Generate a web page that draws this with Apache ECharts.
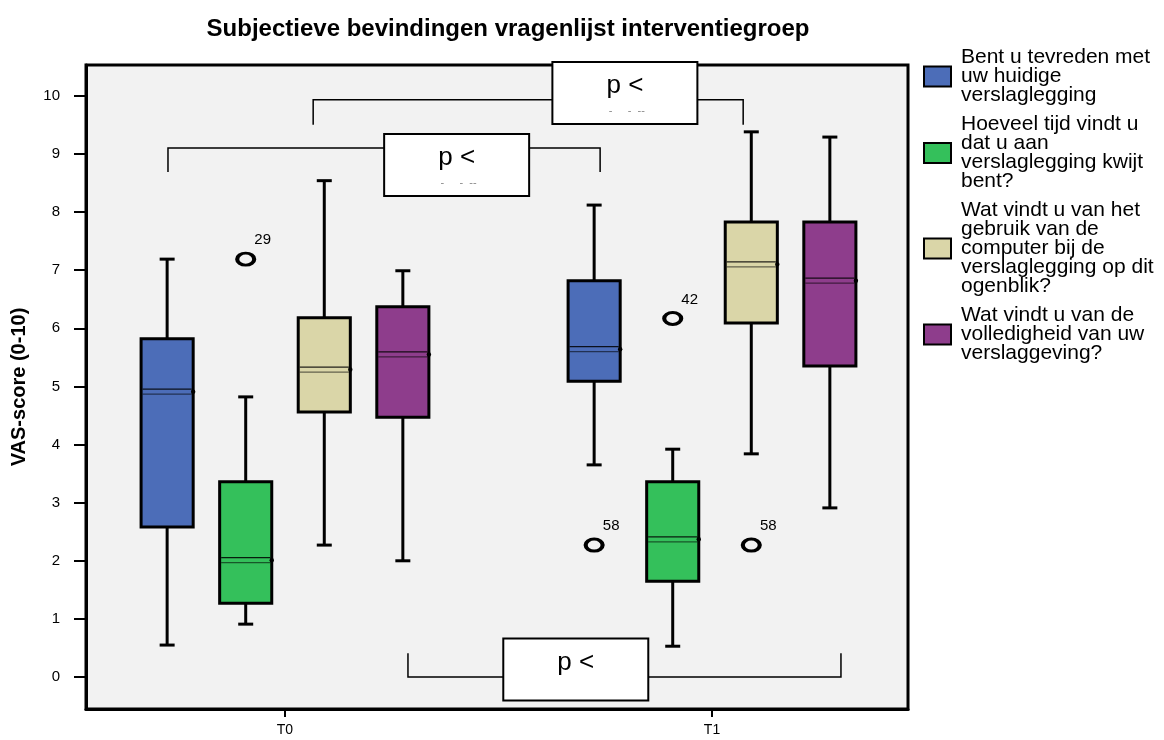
<!DOCTYPE html>
<html>
<head>
<meta charset="utf-8">
<script src="https://cdn.jsdelivr.net/npm/echarts@6/dist/echarts.min.js"></script>
<style>html,body{margin:0;padding:0;background:#fff}#c{width:1164px;height:740px}</style>
</head>
<body>
<div id="c"></div>
<script>
// ---- data ----
const categories = ['T0', 'T1'];
const questions = [
  'Bent u tevreden met\nuw huidige\nverslaglegging',
  'Hoeveel tijd vindt u\ndat u aan\nverslaglegging kwijt\nbent?',
  'Wat vindt u van het\ngebruik van de\ncomputer bij de\nverslaglegging op dit\nogenblik?',
  'Wat vindt u van de\nvolledigheid van uw\nverslaggeving?'
];
// [min, Q1, median, Q3, max] per time point
const tevreden     = [[0.55, 2.58, 4.91, 5.82, 7.19], [3.65, 5.09, 5.64, 6.82, 8.12]];
const tijd         = [[0.91, 1.27, 2.01, 3.36, 4.82], [0.53, 1.65, 2.37, 3.36, 3.92]];
const computer     = [[2.27, 4.56, 5.29, 6.18, 8.54], [3.84, 6.09, 7.10, 7.83, 9.38]];
const volledigheid = [[2.00, 4.47, 5.55, 6.37, 6.99], [2.91, 5.35, 6.82, 7.83, 9.29]];
// outliers: [time index, question index, value, case label]
const outliers = [[0, 1, 7.19, '29'], [1, 0, 2.27, '58'], [1, 1, 6.17, '42'], [1, 2, 2.27, '58']];
const yTicks = [0, 1, 2, 3, 4, 5, 6, 7, 8, 9, 10];
// significance brackets: [x1, x2, yLine, yEnd, boxX, boxY, label]
const brackets = [
  [0.066, 1.073, 9.93, 9.50, 0.796, 10.05, 'p <'],
  [-0.274, 0.738, 9.10, 8.69, 0.402, 8.81, 'p <'],
  [0.288, 1.302, 0.00, 0.41, 0.681, 0.13, 'p <']
];

// ---- styling / layout ----
const colors = ['#4C6DB8', '#34C05B', '#DAD6A8', '#8E3D8C'];
const offsets = [-0.276, -0.092, 0.092, 0.276];
const BOXW = 0.122;
const FONT = '"Liberation Sans", Arial, sans-serif';
const series4 = [tevreden, tijd, computer, volledigheid];

function boxRender(qi) {
  return function (params, api) {
    const x = api.value(0) + offsets[qi];
    const pMin = api.coord([x, api.value(1)]);
    const pQ1 = api.coord([x, api.value(2)]);
    const pMed = api.coord([x, api.value(3)]);
    const pQ3 = api.coord([x, api.value(4)]);
    const pMax = api.coord([x, api.value(5)]);
    const hw = api.size([BOXW, 0])[0] / 2;
    const cx = pMed[0];
    const cap = 7.5;
    const ls = { stroke: '#000', lineWidth: 3 };
    return {
      type: 'group',
      children: [
        { type: 'line', shape: { x1: cx, y1: pMax[1], x2: cx, y2: pQ3[1] }, style: ls },
        { type: 'line', shape: { x1: cx, y1: pQ1[1], x2: cx, y2: pMin[1] }, style: ls },
        { type: 'line', shape: { x1: cx - cap, y1: pMax[1], x2: cx + cap, y2: pMax[1] }, style: ls },
        { type: 'line', shape: { x1: cx - cap, y1: pMin[1], x2: cx + cap, y2: pMin[1] }, style: ls },
        { type: 'rect', shape: { x: cx - hw, y: pQ3[1], width: 2 * hw, height: pQ1[1] - pQ3[1] },
          style: { fill: colors[qi], stroke: '#000', lineWidth: 3 } },
        { type: 'line', shape: { x1: cx - hw + 1.5, y1: pMed[1] - 2.5, x2: cx + hw - 1.5, y2: pMed[1] - 2.5 },
          style: { stroke: 'rgba(0,0,0,0.85)', lineWidth: 1.2 } },
        { type: 'line', shape: { x1: cx - hw + 1.5, y1: pMed[1] + 2.5, x2: cx + hw - 1.5, y2: pMed[1] + 2.5 },
          style: { stroke: 'rgba(0,0,0,0.55)', lineWidth: 1.2 } },
        { type: 'circle', shape: { cx: cx + hw, cy: pMed[1], r: 2.2 }, style: { fill: '#000' } }
      ]
    };
  };
}

function bracketRender(params, api) {
  const p1 = api.coord([api.value(0), api.value(2)]);
  const p2 = api.coord([api.value(1), api.value(2)]);
  const e1 = api.coord([api.value(0), api.value(3)]);
  const e2 = api.coord([api.value(1), api.value(3)]);
  const c = api.coord([api.value(4), api.value(5)]);
  const w = 145, h = 62;
  const children = [
    { type: 'polyline', shape: { points: [e1, p1, p2, e2] }, style: { stroke: '#000', lineWidth: 1.5, fill: null } },
    { type: 'rect', shape: { x: c[0] - w / 2, y: c[1] - h / 2, width: w, height: h },
      style: { fill: '#fff', stroke: '#000', lineWidth: 2 } },
    { type: 'text', x: c[0], y: c[1] - 7,
      style: { text: brackets[params.dataIndex][6], fontSize: 26, fontFamily: FONT, fill: '#000', align: 'center', verticalAlign: 'middle' } }
  ];
  if (params.dataIndex < 2) {
    children.push({ type: 'text', x: c[0] + 2, y: c[1] + 18,
      style: { text: '-     -  --', fontSize: 11, fontFamily: FONT, fill: '#888', align: 'center', verticalAlign: 'middle' } });
  }
  return { type: 'group', children };
}

const seriesList = series4.map((arr, qi) => ({
  name: questions[qi],
  type: 'custom',
  renderItem: boxRender(qi),
  data: arr.map((v, ti) => [ti].concat(v)),
  z: 3
}));

seriesList.push({
  name: 'outliers',
  type: 'scatter',
  symbol: 'circle',
  symbolSize: [17, 12],
  itemStyle: { color: 'rgba(0,0,0,0)', borderColor: '#000', borderWidth: 3.5, opacity: 1 },
  label: { show: true, position: 'top', distance: 4, offset: [17, 0], formatter: '{b}',
           fontSize: 15, fontFamily: FONT, color: '#000' },
  data: outliers.map(o => ({ name: o[3], value: [o[0] + offsets[o[1]], o[2]] })),
  z: 4
});

seriesList.push({
  name: 'brackets',
  type: 'custom',
  renderItem: bracketRender,
  data: brackets.map(b => b.slice(0, 6)),
  z: 5
});

const chart = echarts.init(document.getElementById('c'), null, { renderer: 'canvas' });
chart.setOption({
  animation: false,
  backgroundColor: '#fff',
  title: {
    text: 'Subjectieve bevindingen vragenlijst interventiegroep',
    left: 503, top: 12, textAlign: 'center',
    textStyle: { fontSize: 24, fontWeight: 'bold', fontFamily: FONT, color: '#000' }
  },
  legend: {
    orient: 'vertical', left: 923, top: 47, padding: 0,
    itemWidth: 27, itemHeight: 20, itemGap: 8,
    selectedMode: false,
    textStyle: { fontSize: 21, lineHeight: 19, fontFamily: FONT, color: '#000', padding: [0, 0, 0, 5] },
    data: questions.map((q, i) => ({ name: q, icon: 'rect',
      itemStyle: { color: colors[i], borderColor: '#000', borderWidth: 2 } }))
  },
  grid: {
    left: 86, right: 1164 - 908, top: 65, bottom: 31,
    show: true, backgroundColor: '#F2F2F2', borderColor: '#000', borderWidth: 3
  },
  xAxis: {
    type: 'value', min: -0.466, max: 1.459,
    splitLine: { show: false },
    axisLine: { show: true, onZero: false, lineStyle: { color: '#000', width: 3 } },
    axisTick: { show: true, length: 8, customValues: [0, 1], lineStyle: { color: '#000', width: 2 } },
    axisLabel: { customValues: [0, 1], formatter: v => categories[Math.round(v)], margin: 14,
                 fontSize: 14, fontFamily: FONT, color: '#000' }
  },
  yAxis: {
    type: 'value', min: -0.55, max: 10.53,
    name: 'VAS-score (0-10)', nameLocation: 'middle', nameGap: 57, nameRotate: 90,
    nameTextStyle: { fontSize: 20, fontWeight: 'bold', fontFamily: FONT, color: '#000' },
    splitLine: { show: false },
    axisLine: { show: true, onZero: false, lineStyle: { color: '#000', width: 3 } },
    axisTick: { show: true, length: 12, customValues: yTicks, lineStyle: { color: '#000', width: 2 } },
    axisLabel: { customValues: yTicks, margin: 26, fontSize: 15, fontFamily: FONT, color: '#000' }
  },
  series: seriesList
});
</script>
</body>
</html>
